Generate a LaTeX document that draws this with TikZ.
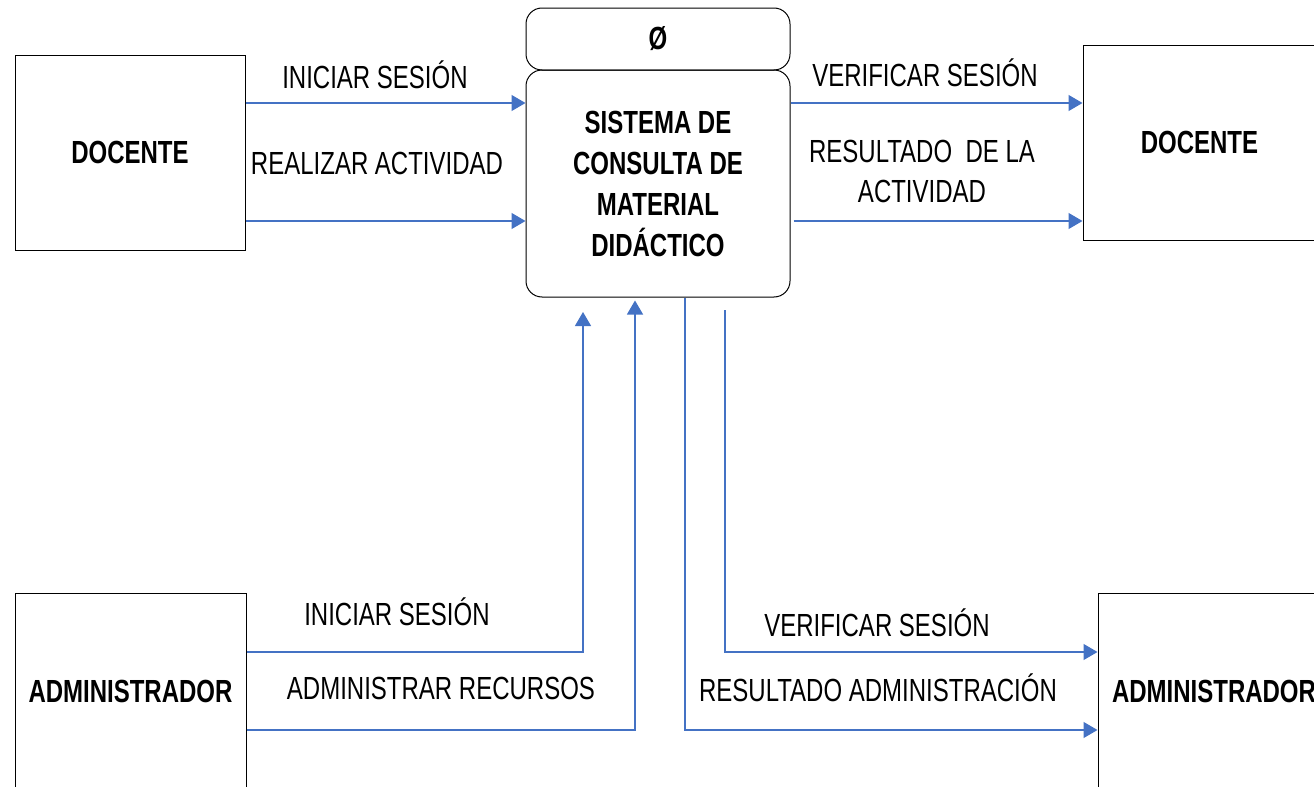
\documentclass[tikz,border=0pt]{standalone}
\usepackage{fontspec}
\setmainfont{Liberation Sans}[FakeStretch=0.75]
\usetikzlibrary{arrows.meta}

\definecolor{flujo}{RGB}{68,114,196}

\tikzset{
  entidad/.style={draw=black, line width=0.5pt, minimum width=115pt, minimum height=97.5pt,
    font=\fontsize{16}{20.5}\selectfont\bfseries},
  proceso/.style={draw=black, line width=0.5pt, rounded corners=8pt, minimum width=132pt,
    align=center, font=\fontsize{16}{20.5}\selectfont\bfseries},
  flecha/.style={draw=flujo, line width=0.6pt, -{Triangle[length=7pt,width=8pt]}},
  etiqueta/.style={align=center, inner sep=0pt, font=\fontsize{16}{20}\selectfont}
}

\begin{document}
\begin{tikzpicture}[x=0.5pt,y=-0.5pt]
    \clip (0,0) rectangle (1314,787);
    \useasboundingbox (0,0) rectangle (1314,787);

    % entidades externas
    \node[entidad] (docl) at (130,152.5) {DOCENTE};
    \node[entidad, minimum width=116.5pt] (docr) at (1199.5,142.5) {DOCENTE};
    \node[entidad, minimum width=115.5pt, minimum height=98pt] (adml) at (130.5,691) {ADMINISTRADOR};
    \node[entidad, minimum width=116pt, minimum height=98pt] (admr) at (1214,691) {ADMINISTRADOR};

    % proceso
    \node[proceso, minimum height=31pt] (num) at (658,39) {Ø};
    \node[proceso, minimum height=113.5pt] (sys) at (658,183.5)
        {SISTEMA DE\\CONSULTA DE\\MATERIAL\\DIDÁCTICO};

    % niveles de los flujos
    \coordinate (y1) at (0,103);
    \coordinate (y2) at (0,221);
    \coordinate (y3) at (0,652);
    \coordinate (y4) at (0,730);
    \coordinate (x1) at (583,312);
    \coordinate (x2) at (635,0);
    \coordinate (x3) at (685,0);
    \coordinate (x4) at (725,310);

    % flujos docente
    \draw[flecha] (docl.east |- y1) -- (sys.west |- y1);
    \draw[flecha] (docl.east |- y2) -- (sys.west |- y2);
    \draw[flecha] (sys.east |- y1) -- (docr.west |- y1);
    \draw[flecha] ([xshift=1.5pt]sys.east |- y2) -- (docr.west |- y2);

    % flujos administrador
    \draw[flecha] (adml.east |- y3) -| (x1);
    \draw[flecha] (adml.east |- y4) -| ([yshift=-1.5pt]x2 |- sys.south);
    \draw[flecha] (x4) |- (admr.west |- y3);
    \draw[flecha] (x3 |- sys.south) |- (admr.west |- y4);

    % etiquetas
    \node[etiqueta] (l1) at (375,75) {INICIAR SESIÓN};
    \node[etiqueta] (l2) at (377,163) {REALIZAR ACTIVIDAD};
    \node[etiqueta] (l3) at (925,73) {VERIFICAR SESIÓN};
    \node[etiqueta] (l4) at (922,171) {RESULTADO\ \ DE LA\\ACTIVIDAD};
    \node[etiqueta] (l5) at (397,612) {INICIAR SESIÓN};
    \node[etiqueta] (l6) at (441,688) {ADMINISTRAR RECURSOS};
    \node[etiqueta] (l7) at (877,623) {VERIFICAR SESIÓN};
    \node[etiqueta] (l8) at (878,688) {RESULTADO ADMINISTRACIÓN};
\end{tikzpicture}
\end{document}
